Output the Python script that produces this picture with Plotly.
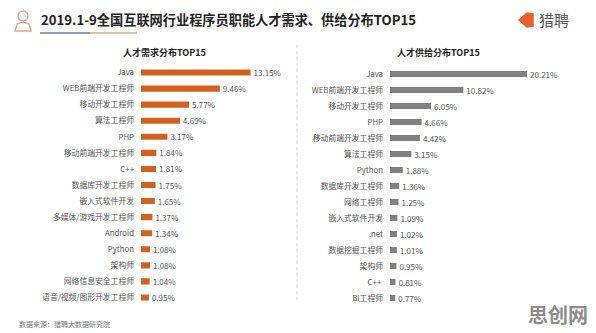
import plotly.graph_objects as go

demand_cats = ["Java", "WEB前端开发工程师", "移动开发工程师", "算法工程师", "PHP", "移动前端开发工程师",
               "C++", "数据库开发工程师", "嵌入式软件开发", "多媒体/游戏开发工程师", "Android", "Python",
               "架构师", "网络信息安全工程师", "语音/视频/图形开发工程师"]
demand_vals = [13.15, 9.46, 5.77, 4.69, 3.17, 1.84, 1.81, 1.75, 1.65, 1.37, 1.34, 1.08, 1.08, 1.04, 0.95]

supply_cats = ["Java", "WEB前端开发工程师", "移动开发工程师", "PHP", "移动前端开发工程师", "算法工程师",
               "Python", "数据库开发工程师", "网络工程师", "嵌入式软件开发", ".net", "数据挖掘工程师",
               "架构师", "C++ ", "BI工程师"]
supply_vals = [20.21, 10.82, 6.05, 4.66, 4.42, 3.15, 1.88, 1.36, 1.25, 1.09, 1.02, 1.01, 0.95, 0.81, 0.77]

FONT = "Noto Sans CJK SC"
W, H = 596, 333
ORANGE = "#D5601B"
GRAY = "#808080"
LBL = "#555555"

fig = go.Figure()
fig.add_trace(go.Bar(
    y=demand_cats, x=demand_vals, orientation="h", marker=dict(color=ORANGE, line=dict(width=0)),
    text=[f"{v:.2f}%" for v in demand_vals], textposition="outside", cliponaxis=False, constraintext="none",
    textfont=dict(size=8, color=LBL, family=FONT), xaxis="x", yaxis="y", hoverinfo="skip"))
fig.add_trace(go.Bar(
    y=supply_cats, x=supply_vals, orientation="h", marker=dict(color=GRAY, line=dict(width=0)),
    text=[f"{v:.2f}%" for v in supply_vals], textposition="outside", cliponaxis=False, constraintext="none",
    textfont=dict(size=8, color=LBL, family=FONT), xaxis="x2", yaxis="y2", hoverinfo="skip"))

def px(x): return x / W
def py(y): return 1 - y / H

common_x = dict(showgrid=False, zeroline=False, showticklabels=False, showline=False, fixedrange=True)
common_y = dict(showgrid=False, zeroline=False, showline=False, ticks="", autorange="reversed",
                tickfont=dict(size=7.8, color=LBL, family=FONT), ticklabelstandoff=6, type="category")

fig.update_layout(
    width=W, height=H, margin=dict(l=0, r=0, t=0, b=0),
    paper_bgcolor="white", plot_bgcolor="white", showlegend=False, bargap=0.62,
    xaxis=dict(domain=[px(141), px(290)], range=[0, 149 / 8.33], **common_x),
    yaxis=dict(domain=[py(305.5), py(64.5)], anchor="x", **common_y),
    xaxis2=dict(domain=[px(390), px(585)], range=[0, 195 / 6.78], anchor="y2", **common_x),
    yaxis2=dict(domain=[py(306), py(66)], anchor="x2", **common_y),
    font=dict(family=FONT),
)

ann = [
    dict(x=px(39), y=py(20), text="<b>2019.1-9全国互联网行业程序员职能人才需求、供给分布TOP15</b>",
         font=dict(size=13.2, color="#222222", family=FONT), xanchor="left", yanchor="middle"),
    dict(x=px(164), y=py(53), text="<b>人才需求分布TOP15</b>", font=dict(size=9, color="#222222", family=FONT),
         xanchor="center", yanchor="middle"),
    dict(x=px(438), y=py(53), text="<b>人才供给分布TOP15</b>", font=dict(size=9, color="#222222", family=FONT),
         xanchor="center", yanchor="middle"),
    dict(x=px(17), y=py(324), text="数据来源：猎聘大数据研究院", font=dict(size=7, color="#777777", family=FONT),
         xanchor="left", yanchor="middle"),
    dict(x=px(537), y=py(20), text="猎聘", font=dict(size=15, color="#555555", family=FONT),
         xanchor="left", yanchor="middle"),
    dict(x=px(590), y=py(314), text="<b>思创网</b>", font=dict(size=20, color="#8c8c8c", family=FONT),
         xanchor="right", yanchor="middle"),
]
for a in ann:
    a.update(xref="paper", yref="paper", showarrow=False)
fig.update_layout(annotations=ann)

def P(x, y): return f"{px(x)} {py(y)}"
shapes = [
    # underline under title
    dict(type="line", x0=px(40), x1=px(90), y0=py(33), y1=py(33), line=dict(color="#8f9cc4", width=2)),
    dict(type="line", x0=px(90), x1=px(137), y0=py(33), y1=py(33), line=dict(color="#d8c3a6", width=2)),
    # dotted separator
    dict(type="line", x0=px(297), x1=px(297), y0=py(45), y1=py(302), line=dict(color="#cccccc", width=1, dash="dot")),
    # person icon
    dict(type="circle", x0=px(18), x1=px(28), y0=py(21), y1=py(11), line=dict(color="#d9a887", width=1.3)),
    dict(type="path", path=f"M {P(15,31)} L {P(17,24)} Q {P(23,21)} {P(29,24)} L {P(31,31)} Z",
         line=dict(color="#d9a887", width=1.3)),
    # logo
    dict(type="path", path=f"M {P(519,20)} L {P(527,13)} L {P(533,14)} L {P(533,26)} L {P(527,27)} Z",
         fillcolor="#e8622a", line=dict(color="#e8622a", width=1.5)),
]
for s in shapes:
    s.update(xref="paper", yref="paper")
fig.update_layout(shapes=shapes)
fig.add_annotation(x=px(528), y=py(20.5), xref="paper", yref="paper", showarrow=False, text="<b>L</b>",
                   font=dict(size=9, color="white", family=FONT))

fig.write_html("out.html")
